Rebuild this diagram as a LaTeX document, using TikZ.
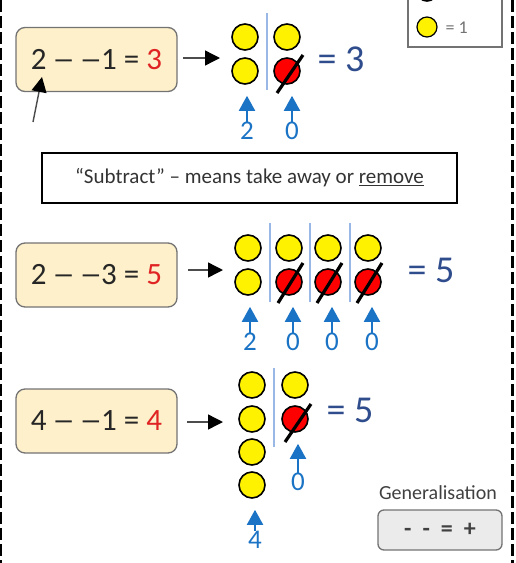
\documentclass[tikz,border=0pt]{standalone}
\usepackage{fontspec}
\setmainfont{Carlito}
\usetikzlibrary{arrows.meta,calc}
\definecolor{cream}{HTML}{FDF0CA}
\definecolor{eqblue}{HTML}{2F4C8C}
\definecolor{arrblue}{HTML}{1A73C4}
\definecolor{sepblue}{HTML}{9AB8E6}
\definecolor{ansred}{HTML}{E02424}
\newcommand{\dsh}{\scalebox{0.72}[1]{—}}
\begin{document}
\begin{tikzpicture}[x=1pt,y=-1pt,
  eqbox/.style={draw=black!55, fill=cream, rounded corners=9pt, minimum width=161pt, minimum height=64pt, line width=1.3pt, text=black!85, font=\fontsize{31}{33}\selectfont},
  yel/.style={circle, draw=black, fill=yellow, minimum size=26pt, inner sep=0pt, line width=1.6pt},
  redc/.style={circle, draw=black, fill=red, minimum size=26pt, inner sep=0pt, line width=1.6pt},
  slash/.style={line width=3.2pt, black},
  sepline/.style={sepblue, line width=1.1pt},
  res/.style={text=eqblue, font=\fontsize{38}{40}\selectfont, inner sep=0pt},
  lab/.style={text=arrblue, font=\fontsize{27}{29}\selectfont, inner sep=0pt},
  barr/.style={arrblue, line width=2pt, -{Triangle[width=16pt,length=15pt]}},
  karr/.style={black!70, line width=1.4pt, -{Triangle[width=15pt,length=15pt,color=black]}},
]
\useasboundingbox (0,0) rectangle (515,563);
\clip (0,0) rectangle (515,563);

% borders
\draw[dashed, dash pattern=on 12pt off 4pt, line width=1.5pt] (1,0) -- (1,563);
\draw[dashed, dash pattern=on 12pt off 4pt, line width=2.2pt] (512.5,0) -- (512.5,563);

% legend
\draw[black!55, line width=1.3pt] (408,-10) rectangle (502,47);
\node[redc, minimum size=20pt] (lr) at (427,-9) {};
\node[yel, minimum size=20pt, line width=1.2pt] (ly) at (427,27) {};
\node[text=black!55, font=\fontsize{18}{20}\selectfont, anchor=west] (lt) at (442,28) {= 1};

% ---------- section 1 ----------
\node[eqbox] (e1) at (96.5,59.5) {2 \dsh{} \dsh1 = \textcolor{ansred}{3}};
\node[yel] (a1) at (245,37) {};
\node[yel] (a2) at (245,71) {};
\node[yel] (b1) at (287,37) {};
\node[redc] (b2) at (287,71) {};
\draw[slash] ([shift={(-10,22)}]b2.center) -- ([shift={(16,-16)}]b2.center);
\draw[sepline] (267,13) -- (267,90);
\node[res] (r1) at (341,59) {= 3};
\coordinate (k1s) at (183,58);
\draw[karr] (k1s) -- (220,58);
\coordinate (k0) at (33,122);
\draw[karr] (k0) -- (42,77);
\node[lab] (l11) at (247,131) {2};
\node[lab] (l12) at (292,131) {0};
\draw[barr, shorten >=11pt] (l11.north) -- (l11.north |- a2.south);
\draw[barr, shorten >=11pt] (l12.north) -- (l12.north |- b2.south);

% subtract box
\node[draw=black, line width=2.3pt, minimum width=415pt, minimum height=50pt, inner sep=0pt, text=black!80, font=\fontsize{21}{23}\selectfont] (sub) at (249.5,178) {“Subtract” – means take away or \underline{remove}};

% ---------- section 2 ----------
\node[eqbox] (e2) at (96.5,275) {2 \dsh{} \dsh3 = \textcolor{ansred}{5}};
\foreach \x/\n in {248/c1,289/c2,328/c3,368/c4}{
  \node[yel] (\n t) at (\x,248) {};
}
\node[yel] (c1b) at (248,282) {};
\foreach \n/\x in {c2/289,c3/328,c4/368}{
  \node[redc] (\n b) at (\x,282) {};
  \draw[slash] ([shift={(-11,21)}]\n b.center) -- ([shift={(14,-19)}]\n b.center);
}
\foreach \x in {270,310,350}{
  \draw[sepline] (\x,223) -- (\x,302);
}
\node[res] (r2) at (431,270) {= 5};
\coordinate (k2s) at (188,270);
\draw[karr] (k2s) -- (223,270);
\node[lab] (l21) at (250,342) {2};
\node[lab] (l22) at (293,342) {0};
\node[lab] (l23) at (332,342) {0};
\node[lab] (l24) at (372,342) {0};
\draw[barr, shorten >=11pt] (l21.north) -- (l21.north |- c1b.south);
\draw[barr, shorten >=11pt] (l22.north) -- (l22.north |- c2b.south);
\draw[barr, shorten >=11pt] (l23.north) -- (l23.north |- c3b.south);
\draw[barr, shorten >=11pt] (l24.north) -- (l24.north |- c4b.south);

% ---------- section 3 ----------
\node[eqbox] (e3) at (96.5,421) {4 \dsh{} \dsh1 = \textcolor{ansred}{4}};
\node[yel] (d1) at (252,385) {};
\node[yel] (d2) at (252,419) {};
\node[yel] (d3) at (252,452) {};
\node[yel] (d4) at (252,485) {};
\node[yel] (f1) at (295,385) {};
\node[redc] (f2) at (295,419) {};
\draw[slash] ([shift={(-10,23)}]f2.center) -- ([shift={(16,-15)}]f2.center);
\draw[sepline] (274,368) -- (274,447);
\node[res] (r3) at (350,410) {= 5};
\coordinate (k3s) at (187,422);
\draw[karr] (k3s) -- (223,422);
\node[lab] (l31) at (255,540) {4};
\node[lab] (l32) at (298,482) {0};
\draw[barr, shorten >=11pt] (l31.north) -- (l31.north |- d4.south);
\draw[barr, shorten >=11pt] (l32.north) -- (l32.north |- f2.south);

% generalisation
\node[text=black!75, font=\fontsize{20}{22}\selectfont] (gt) at (438,493) {Generalisation};
\node[draw=black!55, fill=black!8, rounded corners=6pt, line width=1.3pt, minimum width=124pt, minimum height=40pt, text=black!75, font=\fontsize{24}{26}\selectfont\bfseries] (gb) at (440,530) {-\hspace{11pt}-\hspace{11pt}=\hspace{11pt}+};
\end{tikzpicture}
\end{document}
